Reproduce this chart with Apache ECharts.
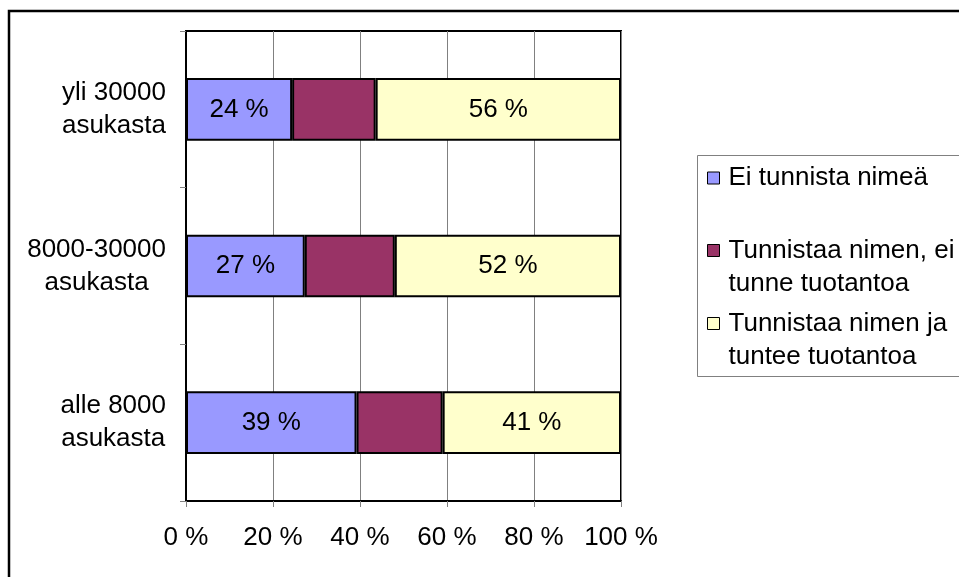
<!DOCTYPE html>
<html>
<head>
<meta charset="utf-8">
<script src="https://cdn.jsdelivr.net/npm/echarts@6/dist/echarts.min.js"></script>
<style>
html,body{margin:0;padding:0;background:#fff;}
#c{width:959px;height:577px;}
</style>
</head>
<body>
<div id="c"></div>
<script>
var categories = ['alle 8000\nasukasta', '8000-30000\nasukasta', 'yli 30000\nasukasta'];
var seriesNames = ['Ei tunnista nimeä', 'Tunnistaa nimen, ei\ntunne tuotantoa', 'Tunnistaa nimen ja\ntuntee tuotantoa'];
var eiTunnista = [39.2, 27.3, 24.4];
var tunnistaaEiTunne = [19.8, 20.7, 19.2];
var tunnistaaTuntee = [41.0, 52.0, 56.4];
var xTicks = [0, 20, 40, 60, 80, 100];
var colors = ['#9999FF', '#993366', '#FFFFCC'];

var FONT = 'Liberation Sans, Arial, sans-serif';
var FS = 26;

var chart = echarts.init(document.getElementById('c'));

function barLabel(show) {
  return {
    show: show,
    position: 'inside',
    color: '#000',
    fontFamily: FONT,
    fontSize: FS,
    formatter: function (p) { return Math.round(p.value) + ' %'; }
  };
}

function legendAt(name, top) {
  var multi = name.indexOf('\n') >= 0;
  return {
    data: [name],
    left: 707,
    top: top,
    orient: 'vertical',
    padding: 0,
    icon: 'rect',
    itemWidth: 12,
    itemHeight: 12,
    selectedMode: false,
    itemStyle: { borderColor: '#000', borderWidth: 1 },
    formatter: function (n) { return multi ? ' \n' + n : n; },
    textStyle: {
      fontFamily: FONT,
      fontSize: FS,
      color: '#000',
      lineHeight: 33,
      padding: [0, 0, 0, 4]
    }
  };
}

var option = {
  backgroundColor: '#fff',
  animation: false,
  color: colors,
  graphic: [
    { type: 'rect', z: -10, shape: { x: 9, y: 11, width: 1100, height: 800 },
      style: { fill: 'none', stroke: '#000', lineWidth: 2.5 } },
    { type: 'rect', z: -10, shape: { x: 697.5, y: 155.5, width: 400, height: 221 },
      style: { fill: 'none', stroke: '#808080', lineWidth: 1 } }
  ],
  legend: [
    legendAt(seriesNames[0], 161.5),
    legendAt(seriesNames[1], 201),
    legendAt(seriesNames[2], 274)
  ],
  grid: {
    left: 186, top: 31, width: 435, height: 470,
    show: true, borderColor: '#000', borderWidth: 2, backgroundColor: 'transparent'
  },
  xAxis: {
    type: 'value',
    min: xTicks[0],
    max: xTicks[xTicks.length - 1],
    interval: 20,
    axisLine: { show: true, lineStyle: { color: '#000', width: 2 } },
    axisTick: { show: true, length: 6, lineStyle: { color: '#808080' } },
    splitLine: { show: true, lineStyle: { color: '#808080', width: 1 } },
    axisLabel: {
      margin: 24,
      color: '#000',
      fontFamily: FONT,
      fontSize: FS,
      lineHeight: 26,
      formatter: function (v) { return v + ' %'; }
    }
  },
  yAxis: {
    type: 'category',
    data: categories,
    axisLine: { show: true, lineStyle: { color: '#000', width: 2 } },
    axisTick: { show: true, length: 6, lineStyle: { color: '#808080' } },
    splitLine: { show: false },
    axisLabel: {
      margin: 20,
      color: '#000',
      fontFamily: FONT,
      fontSize: FS,
      lineHeight: 33,
      formatter: function (v) {
        return v.split('\n').map(function (s) { return '{c|' + s + '}'; }).join('\n');
      },
      rich: { c: { align: 'center', fontFamily: FONT, fontSize: FS, lineHeight: 33, color: '#000' } }
    }
  },
  series: [
    { name: seriesNames[0], type: 'bar', stack: 't', data: eiTunnista, barWidth: '40%',
      itemStyle: { color: colors[0], borderColor: '#000', borderWidth: 2 }, label: barLabel(true) },
    { name: seriesNames[1], type: 'bar', stack: 't', data: tunnistaaEiTunne, barWidth: '40%',
      itemStyle: { color: colors[1], borderColor: '#000', borderWidth: 2 }, label: barLabel(false) },
    { name: seriesNames[2], type: 'bar', stack: 't', data: tunnistaaTuntee, barWidth: '40%',
      itemStyle: { color: colors[2], borderColor: '#000', borderWidth: 2 }, label: barLabel(true) }
  ]
};
chart.setOption(option);
</script>
</body>
</html>
